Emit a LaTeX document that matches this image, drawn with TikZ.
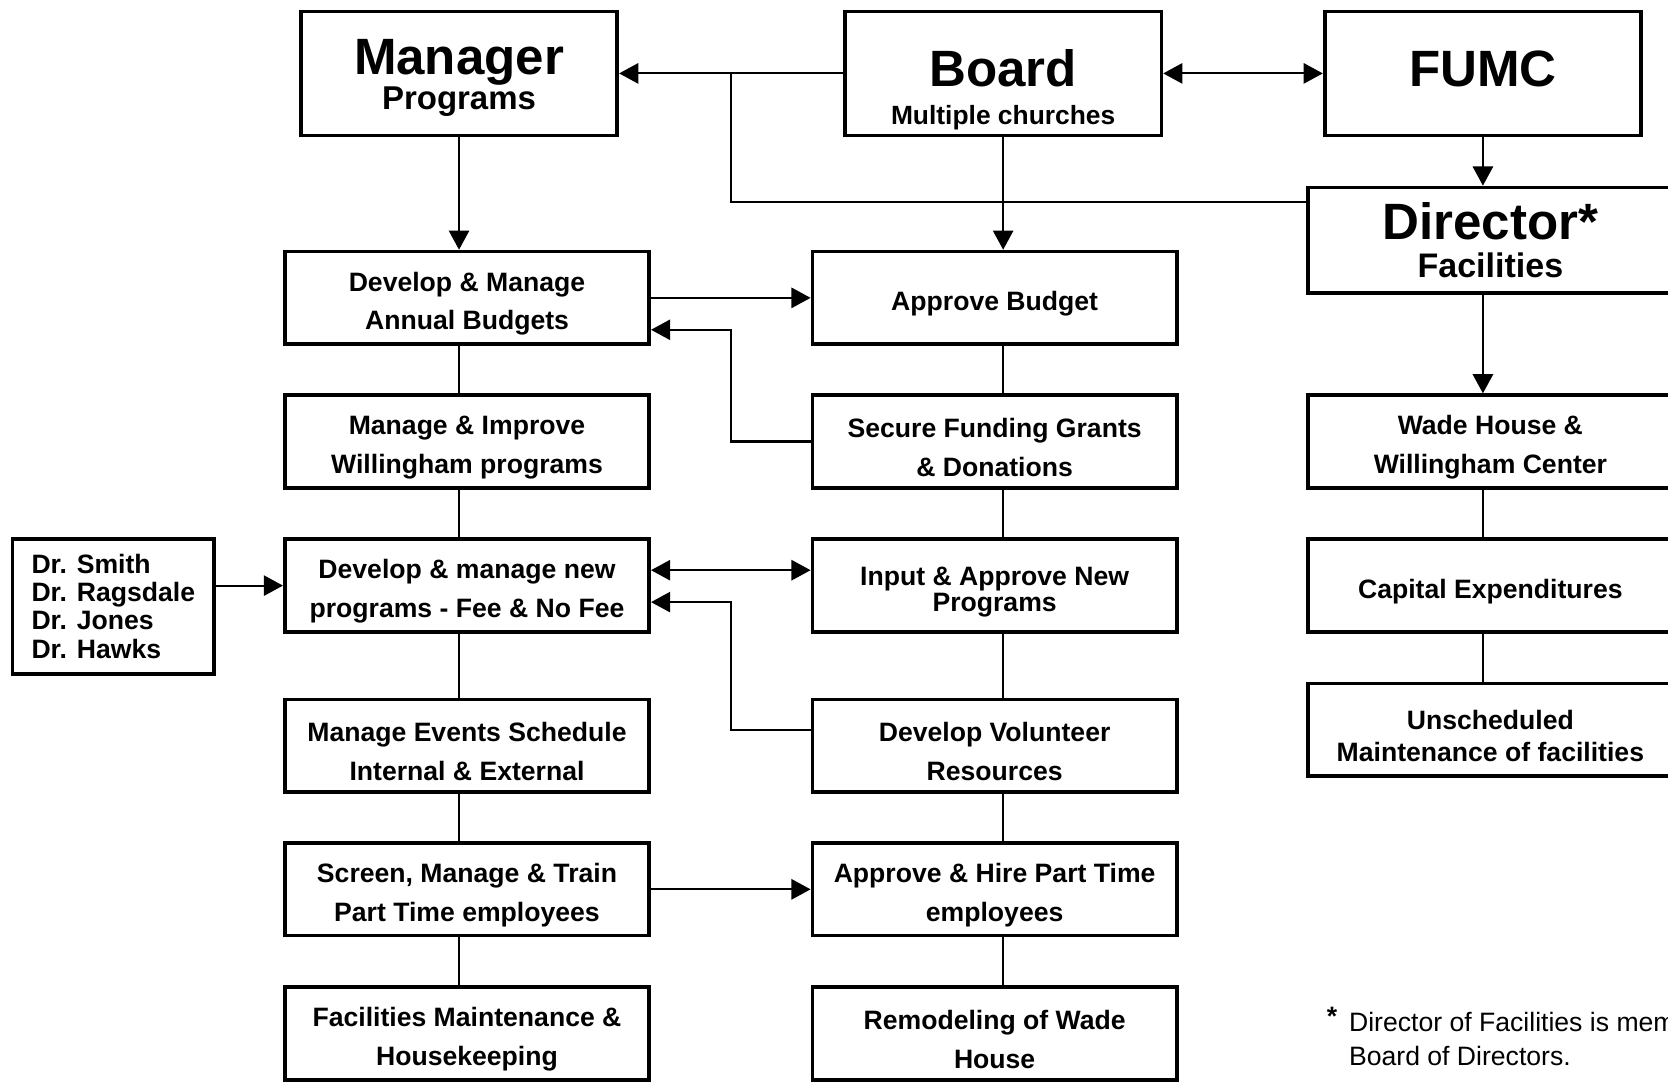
\documentclass[tikz,border=0pt]{standalone}
\usepackage{fontspec}
\setmainfont{Liberation Sans}
\usetikzlibrary{calc,positioning,arrows.meta}
\newcommand{\headfont}{\fontsize{48}{48}\selectfont}
\newcommand{\lift}{\rule{0pt}{29pt}}

\begin{document}
\begin{tikzpicture}
[x=1pt,y=-1pt,
box/.style={rectangle, draw=black, line width=3.5pt, inner sep=0pt,
minimum width=342.5pt, minimum height=87pt, align=center,
font=\bfseries\fontsize{25}{36.5}\selectfont},
head/.style={box, minimum width=297.5pt, minimum height=116.5pt,
font=\bfseries\fontsize{31}{33}\selectfont},
link/.style={line width=2pt},
arr/.style={link, -{Triangle[length=18pt,width=19pt]}},
both/.style={link, {Triangle[length=18pt,width=19pt]}-{Triangle[length=18pt,width=19pt]}}]
\useasboundingbox (0,0) rectangle (1568,1018);
\clip (0,0) rectangle (1568,1018);

\node[head] (manager) at (431.5,69) {{\headfont\rule{0pt}{42pt}Manager}\\Programs};
\node[head, font=\bfseries\fontsize{24.8}{35.6}\selectfont] (board) at (943,69)
  {{\headfont\rule{0pt}{64.8pt}Board}\\Multiple churches};
\node[head] (fumc) at (1394,69) {\headfont FUMC\rule[-8pt]{0pt}{0pt}};
\node[box, minimum height=99.5pt, font=\bfseries\fontsize{32}{36}\selectfont]
  (director) at (1401,226) {{\headfont Director*}\\Facilities};

\node[box] (budgets) at (439,280) {\lift Develop \& Manage\\Annual Budgets};
\node[box] (willing) at (439,415) {\lift Manage \& Improve\\Willingham programs};
\node[box] (newprog) at (439,550.5) {\lift Develop \& manage new\\programs - Fee \& No Fee};
\node[box] (events) at (439,701) {\lift Manage Events Schedule\\Internal \& External};
\node[box] (screen) at (439,836) {\lift Screen, Manage \& Train\\Part Time employees};
\node[box] (housekeep) at (439,971.5) {\lift Facilities Maintenance \&\\Housekeeping};

\node[box] (approve) at (935,280) {\lift Approve Budget};
\node[box] (secure) at (935,415) {\lift Secure Funding Grants\\\& Donations};
\node[box] (input) at (935,550.5) {\lift Input \& Approve New\\[-12pt]Programs};
\node[box] (volunteer) at (935,701) {\lift Develop Volunteer\\Resources};
\node[box] (hire) at (935,836) {\lift Approve \& Hire Part Time\\employees};
\node[box] (remodel) at (935,971.5) {\lift Remodeling of Wade\\House};

\node[box] (wade) at (1401,415) {\lift Wade House \&\\Willingham Center};
\node[box] (capital) at (1401,550.5) {\lift Capital Expenditures};
\node[box] (unsched) at (1401,686) {\lift Unscheduled\\[-6.5pt]Maintenance of facilities};

\node[box, minimum width=189.5pt, minimum height=126.5pt, align=left,
  font=\bfseries\fontsize{25}{26.5}\selectfont] (doctors) at (106.5,570)
  {Dr. Smith\\Dr. Ragsdale\\Dr. Jones\\Dr. Hawks};

\node[anchor=base west, inner sep=0pt, font=\bfseries\fontsize{25}{25}\selectfont]
  (star) at (1247,964) {*};
\node[anchor=north west, inner sep=0pt, align=left, font=\fontsize{25}{32}\selectfont]
  (note) at (1268,951.5) {Director of Facilities is member of the\\Board of Directors.};

\draw[arr] (board.west) -- (manager.east);
\draw[both] (board.east) -- (fumc.west);
\draw[link] ([yshift=36pt]director.west) -| ($(manager.east)!.5!(board.west)$);
\draw[arr] (manager.south) -- (manager.south |- budgets.north);
\draw[arr] (board.south) -- (board.south |- approve.north);
\draw[arr] (fumc.south) -- (fumc.south |- director.north);
\draw[arr] (director.south -| fumc.south) -- (fumc.south |- wade.north);

\draw[arr] (budgets.east) -- (approve.west);
\draw[arr] (secure.west) -- ++(-75,0) |- ([yshift=-30pt]budgets.east);
\draw[both] ([yshift=14.5pt]newprog.east) -- ([yshift=14.5pt]input.west);
\draw[arr] ([yshift=15pt]volunteer.west) -- ++(-75,0) |- ([yshift=-15.5pt]newprog.east);
\draw[arr] (screen.east) -- (hire.west);
\draw[arr] (doctors.east |- newprog.west) -- (newprog.west);

\foreach \a/\b in {budgets/willing,willing/newprog,newprog/events,events/screen,screen/housekeep}
  \draw[link] (\a.south -| manager.south) -- (\b.north -| manager.south);
\foreach \a/\b in {approve/secure,secure/input,input/volunteer,volunteer/hire,hire/remodel}
  \draw[link] (\a.south -| board.south) -- (\b.north -| board.south);
\foreach \a/\b in {wade/capital,capital/unsched}
  \draw[link] (\a.south -| fumc.south) -- (\b.north -| fumc.south);
\end{tikzpicture}
\end{document}
